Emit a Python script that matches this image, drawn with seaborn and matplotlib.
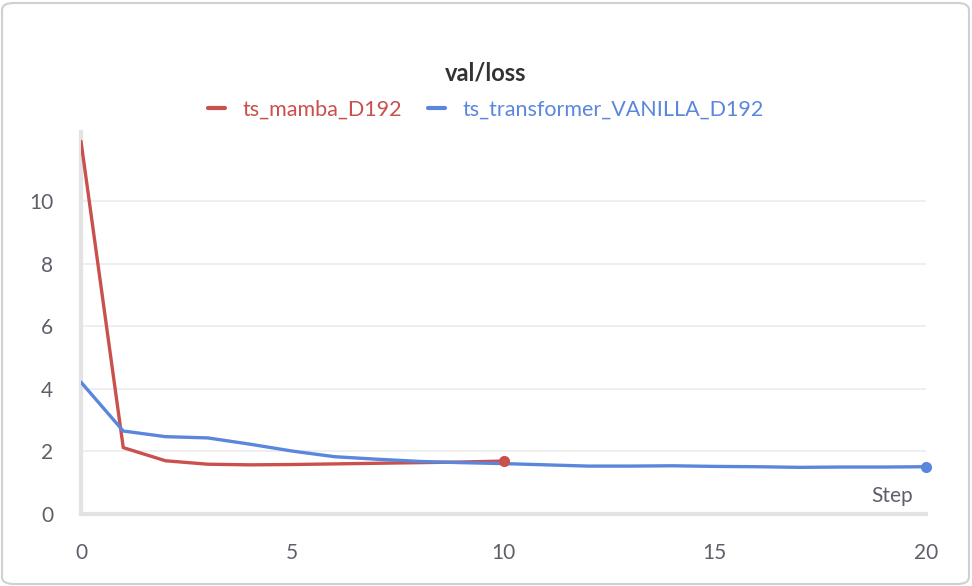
import numpy as np
import pandas as pd
import matplotlib
matplotlib.use("Agg")
import matplotlib.pyplot as plt
from matplotlib.patches import FancyBboxPatch
from matplotlib.lines import Line2D
import seaborn as sns

# values
mamba_steps = list(range(0, 11))
mamba_loss = [11.9, 2.12, 1.70, 1.59, 1.57, 1.58, 1.60, 1.62, 1.64, 1.66, 1.69]
trans_steps = list(range(0, 21))
trans_loss = [4.21, 2.65, 2.47, 2.43, 2.23, 2.01, 1.83, 1.75, 1.68, 1.64, 1.61,
              1.57, 1.53, 1.53, 1.54, 1.52, 1.51, 1.49, 1.50, 1.50, 1.51]
run_names = ["ts_mamba_D192", "ts_transformer_VANILLA_D192"]
run_colors = ["#c9504c", "#5a87dc"]
x_ticks = [0, 5, 10, 15, 20]
y_ticks = [0, 2, 4, 6, 8, 10]

df = pd.concat([
    pd.DataFrame({"step": mamba_steps, "loss": mamba_loss, "run": run_names[0]}),
    pd.DataFrame({"step": trans_steps, "loss": trans_loss, "run": run_names[1]}),
])

sns.set_style("white")
plt.rcParams['font.family'] = ['Lato', 'DejaVu Sans']

W, H = 972, 586
fig = plt.figure(figsize=(W / 100, H / 100), dpi=100)
ax = fig.add_axes([81 / W, 1 - 514 / H, 845 / W, (514 - 132) / H])

palette = dict(zip(run_names, run_colors))
sns.lineplot(data=df, x="step", y="loss", hue="run", palette=palette,
             linewidth=2.4, ax=ax, legend=False, zorder=3)

# end markers
for name, xs, ys in [(run_names[0], mamba_steps, mamba_loss),
                     (run_names[1], trans_steps, trans_loss)]:
    ax.plot(xs[-1], ys[-1], "o", color=palette[name], markersize=7,
            clip_on=False, zorder=4)

ax.set_xlim(0, 20)
ax.set_ylim(0, 12.2)
ax.set_xticks(x_ticks)
ax.set_yticks(y_ticks)
ax.grid(axis="y", color="#ebebeb", linewidth=1.2)
ax.set_axisbelow(True)
for s in ["top", "right"]:
    ax.spines[s].set_visible(False)
for s in ["left", "bottom"]:
    ax.spines[s].set_color("#e3e3e3")
    ax.spines[s].set_linewidth(3)
ax.tick_params(axis="both", direction="inout", length=12, width=1.5,
               color="#e3e3e3", labelcolor="#5f5f6a", labelsize=15)
ax.tick_params(axis="x", pad=15)
ax.tick_params(axis="y", pad=14)
ax.set_xlabel("")
ax.set_ylabel("")
ax.text(0.985, 0.02, "Step", transform=ax.transAxes, ha="right", va="bottom",
        fontsize=15, color="#5f5f6a")

fig.text(0.5, 1 - 73 / H, "val/loss", ha="center", va="center",
         fontsize=17, fontweight="bold", color="#333333")

handles = [Line2D([0], [0], color=c, linewidth=3) for c in run_colors]
leg = fig.legend(handles, run_names, loc="center", bbox_to_anchor=(0.5, 1 - 110 / H),
                 ncol=2, frameon=False, fontsize=15.5, handlelength=0.8,
                 handletextpad=0.8, columnspacing=1.2)
for t, c in zip(leg.get_texts(), run_colors):
    t.set_color(c)

# rounded panel border
fig.patches.append(FancyBboxPatch((2 / W, 2 / H), (W - 5) / W, (H - 5) / H,
                                  boxstyle="round,pad=0,rounding_size=0.012",
                                  transform=fig.transFigure, fill=False,
                                  edgecolor="#d0d0d0", linewidth=1.5))

fig.savefig("out.png", dpi=100)
